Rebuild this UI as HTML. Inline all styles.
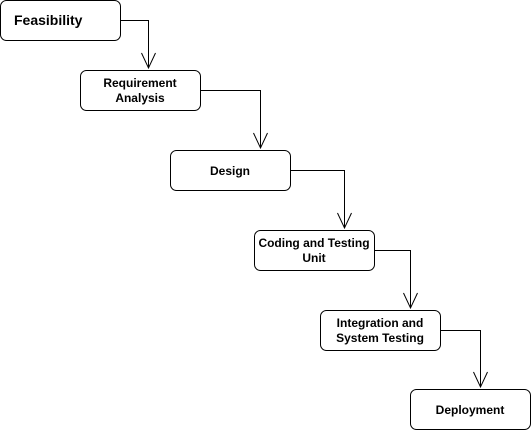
<!DOCTYPE html>
<html><head><meta charset="utf-8"><style>
html,body{margin:0;padding:0;background:#fff;}
svg{display:block;}
text{font-family:"Liberation Sans",Arial,sans-serif;font-weight:bold;fill:#000;}
</style></head><body>
<svg width="531" height="431" viewBox="0 0 531 431" xmlns="http://www.w3.org/2000/svg">
<g fill="#fff" stroke="#000" stroke-width="1">
<rect x="0.5" y="0.5" width="120" height="40" rx="6"/>
<rect x="80.5" y="70.5" width="120" height="40" rx="6"/>
<rect x="170.5" y="150.5" width="120" height="40" rx="6"/>
<rect x="254.5" y="230.5" width="120" height="40" rx="6"/>
<rect x="320.5" y="310.5" width="120" height="40" rx="6"/>
<rect x="410.5" y="389.5" width="120" height="40" rx="6"/>
</g>
<g fill="none" stroke="#000" stroke-width="1">
<path d="M120.5 20.5H148.5V68"/><path d="M141.5 53L148.5 68L155.5 53"/>
<path d="M200.5 90.5H260.5V148"/><path d="M253.5 133L260.5 148L267.5 133"/>
<path d="M290.5 170.5H344.5V228"/><path d="M337.5 213L344.5 228L351.5 213"/>
<path d="M374.5 250.5H410.5V308"/><path d="M403.5 293L410.5 308L417.5 293"/>
<path d="M440.5 330.5H480.5V387"/><path d="M473.5 372L480.5 387L487.5 372"/>
</g>
<text x="14" y="25" font-size="14">Feasibility</text>
<g font-size="12" text-anchor="middle">
<text x="140" y="87">Requirement</text><text x="140" y="102">Analysis</text>
<text x="230" y="175">Design</text>
<text x="314" y="247">Coding and Testing</text><text x="314" y="262">Unit</text>
<text x="380" y="327">Integration and</text><text x="380" y="342">System Testing</text>
<text x="470" y="414">Deployment</text>
</g>
</svg>
</body></html>
